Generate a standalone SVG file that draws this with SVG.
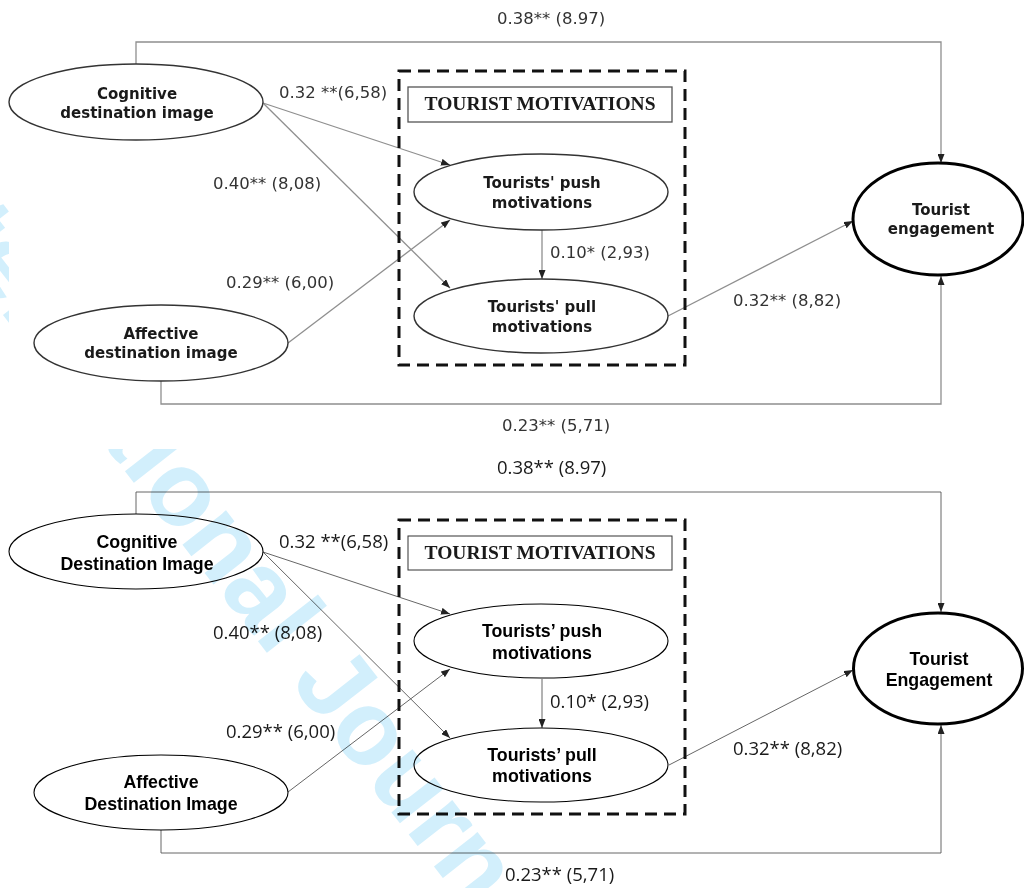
<svg xmlns="http://www.w3.org/2000/svg" width="1024" height="888" viewBox="0 0 1024 888">
<style>
.wm{font-family:"Liberation Sans",sans-serif;font-weight:bold;font-size:105px;fill:#d2effc}
.lt{font-family:"DejaVu Sans",sans-serif;font-size:16.5px;fill:#333}
.lb{font-family:"Open Sans",sans-serif;font-size:18.5px;fill:#1a1a1a}
.nt{font-family:"DejaVu Sans",sans-serif;font-weight:bold;font-size:15px;fill:#1a1a1a;text-anchor:middle}
.nb{font-family:"Liberation Sans",sans-serif;font-weight:bold;font-size:17.8px;fill:#000;text-anchor:middle}
.tt{font-family:"Liberation Serif",serif;font-weight:bold;font-size:19.5px;fill:#1a1a1a;text-anchor:middle}
.et{fill:#fff;stroke:#333;stroke-width:1.4}
.eb{fill:#fff;stroke:#000;stroke-width:1.1}
.eng{fill:#fff;stroke:#000;stroke-width:3}
.dash{fill:none;stroke:#111;stroke-width:3;stroke-dasharray:12 7}
.ct{fill:none;stroke:#8f8f8f;stroke-width:1.3}
.cb{fill:none;stroke:#555;stroke-width:0.9}
</style>
<defs>
<marker id="ah" markerUnits="userSpaceOnUse" markerWidth="9" markerHeight="7" refX="9" refY="3.5" orient="auto">
<path d="M0,0 L9,3.5 L0,7 z" fill="#222"/>
</marker>
<clipPath id="wmclip">
<rect x="0" y="0" width="9" height="449"/>
<rect x="0" y="449" width="1024" height="439"/>
</clipPath>
</defs>
<rect width="1024" height="888" fill="#fff"/>

<!-- TOP PANEL -->
<g id="connectors-top">
<path class="ct" d="M136,65 V42 H941 V163" marker-end="url(#ah)"/>
<path class="ct" d="M161,381 V404 H941 V276" marker-end="url(#ah)"/>
<path class="ct" d="M263,103 L450,165" marker-end="url(#ah)"/>
<path class="ct" d="M263,103 L450,288" marker-end="url(#ah)"/>
<path class="ct" d="M288,343 L450,220" marker-end="url(#ah)"/>
<path class="ct" d="M542,230 L542,279" marker-end="url(#ah)"/>
<path class="ct" d="M668,316 L853,221" marker-end="url(#ah)"/>
</g>
<g id="motivations-box-top">
<rect class="dash" x="399" y="71" width="286" height="294"/>
<rect x="408" y="87" width="264" height="35" fill="#fff" stroke="#555" stroke-width="1.3"/>
<text class="tt" x="540" y="109.5">TOURIST MOTIVATIONS</text>
</g>
<g id="cog-top">
<ellipse class="et" cx="136" cy="102" rx="127" ry="38"/>
<text class="nt" x="137" y="98.5">Cognitive</text>
<text class="nt" x="137" y="118">destination image</text>
</g>
<g id="aff-top">
<ellipse class="et" cx="161" cy="343" rx="127" ry="38"/>
<text class="nt" x="161" y="338.5">Affective</text>
<text class="nt" x="161" y="358">destination image</text>
</g>
<g id="push-top">
<ellipse class="et" cx="541" cy="192" rx="127" ry="38"/>
<text class="nt" x="542" y="187.5">Tourists' push</text>
<text class="nt" x="542" y="208">motivations</text>
</g>
<g id="pull-top">
<ellipse class="et" cx="541" cy="316" rx="127" ry="37"/>
<text class="nt" x="542" y="311.5">Tourists' pull</text>
<text class="nt" x="542" y="332">motivations</text>
</g>
<g id="eng-top">
<ellipse class="eng" cx="938" cy="219" rx="85" ry="56"/>
<text class="nt" x="941" y="214.5">Tourist</text>
<text class="nt" x="941" y="234">engagement</text>
</g>
<g id="labels-top">
<text class="lt" x="497" y="24">0.38** (8.97)</text>
<text class="lt" x="279" y="98">0.32 **(6,58)</text>
<text class="lt" x="213" y="189">0.40** (8,08)</text>
<text class="lt" x="226" y="288">0.29** (6,00)</text>
<text class="lt" x="550" y="258">0.10* (2,93)</text>
<text class="lt" x="733" y="306">0.32** (8,82)</text>
<text class="lt" x="502" y="431">0.23** (5,71)</text>
</g>

<!-- BOTTOM PANEL -->
<g id="connectors-bottom">
<path class="cb" d="M136,514 V492 H941 V612" marker-end="url(#ah)"/>
<path class="cb" d="M161,830 V853 H941 V725" marker-end="url(#ah)"/>
<path class="cb" d="M263,552 L450,614" marker-end="url(#ah)"/>
<path class="cb" d="M263,552 L450,738" marker-end="url(#ah)"/>
<path class="cb" d="M288,792 L450,669" marker-end="url(#ah)"/>
<path class="cb" d="M542,679 L542,728" marker-end="url(#ah)"/>
<path class="cb" d="M669,765 L853,670" marker-end="url(#ah)"/>
</g>
<g id="motivations-box-bottom">
<rect class="dash" x="399" y="520" width="286" height="294"/>
<rect x="408" y="536" width="264" height="34" fill="#fff" stroke="#333" stroke-width="1"/>
<text class="tt" x="540" y="559">TOURIST MOTIVATIONS</text>
</g>
<g id="cog-bottom">
<ellipse class="eb" cx="136" cy="551.5" rx="127" ry="37.5"/>
<text class="nb" x="137" y="547.5">Cognitive</text>
<text class="nb" x="137" y="569.5">Destination Image</text>
</g>
<g id="aff-bottom">
<ellipse class="eb" cx="161" cy="792.5" rx="127" ry="37.5"/>
<text class="nb" x="161" y="788">Affective</text>
<text class="nb" x="161" y="810">Destination Image</text>
</g>
<g id="push-bottom">
<ellipse class="eb" cx="541" cy="641" rx="127" ry="37"/>
<text class="nb" x="542" y="637">Tourists’ push</text>
<text class="nb" x="542" y="658.5">motivations</text>
</g>
<g id="pull-bottom">
<ellipse class="eb" cx="541" cy="765" rx="127" ry="37"/>
<text class="nb" x="542" y="760.5">Tourists’ pull</text>
<text class="nb" x="542" y="782">motivations</text>
</g>
<g id="eng-bottom">
<ellipse class="eng" cx="938" cy="668.5" rx="84.5" ry="55.5"/>
<text class="nb" x="939" y="664.5">Tourist</text>
<text class="nb" x="939" y="686">Engagement</text>
</g>
<g id="labels-bottom">
<text class="lb" x="497" y="473.5">0.38** (8.97)</text>
<text class="lb" x="279" y="547.5">0.32 **(6,58)</text>
<text class="lb" x="213" y="638.5">0.40** (8,08)</text>
<text class="lb" x="226" y="737.5">0.29** (6,00)</text>
<text class="lb" x="550" y="707.5">0.10* (2,93)</text>
<text class="lb" x="733" y="754.5">0.32** (8,82)</text>
<text class="lb" x="505" y="880.5">0.23** (5,71)</text>
</g>

<g id="watermark" clip-path="url(#wmclip)" style="mix-blend-mode:multiply">
<text class="wm" x="-116.5" y="162.1" transform="rotate(52 -116.5 162.1)">International Journal</text>
</g>
</svg>
